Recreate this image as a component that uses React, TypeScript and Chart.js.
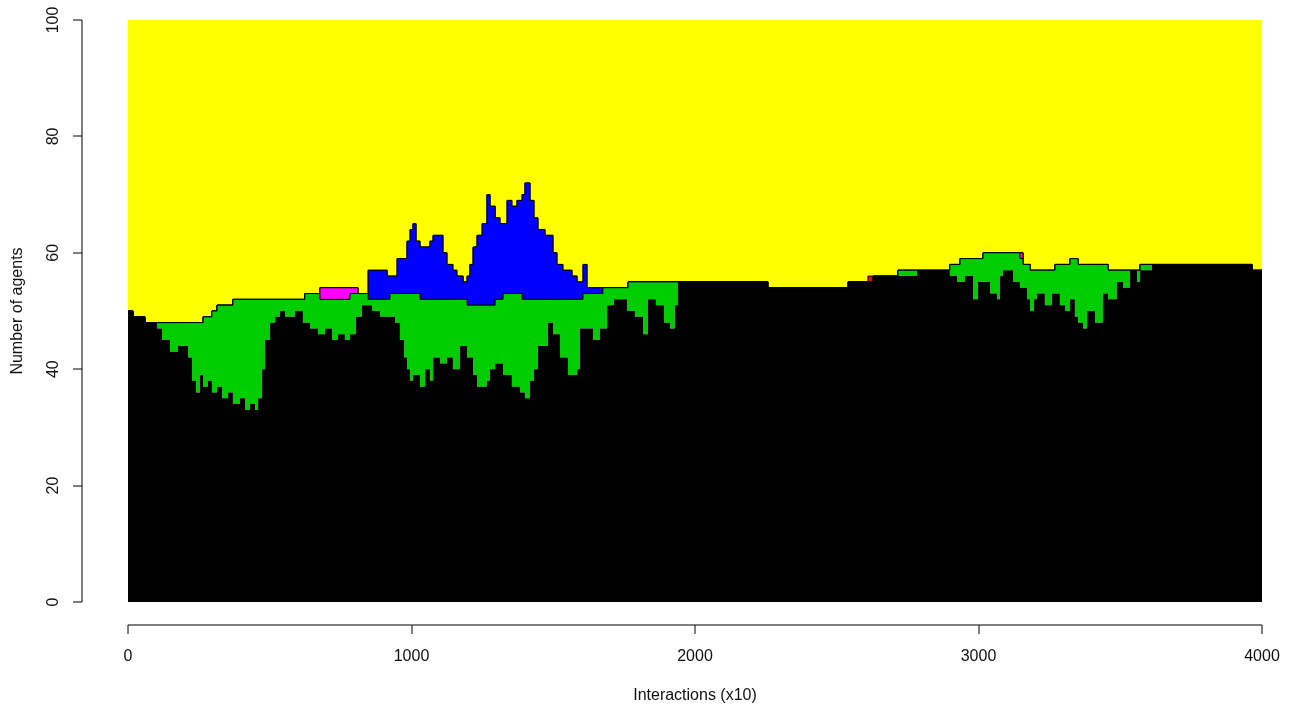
import { useEffect, useRef } from "react";
import { Chart, registerables } from "chart.js";

Chart.register(...registerables);

// Interaction step (x10) at which each row of counts begins
const interactions = [
  0, 18, 60, 102, 120, 148, 176, 212, 226, 240,
  254, 265, 282, 296, 314, 332, 353, 370, 395, 413,
  430, 448, 459, 473, 483, 501, 519, 536, 554, 589,
  617, 624, 642, 670, 677, 695, 720, 741, 765, 783,
  804, 811, 825, 847, 861, 889, 914, 924, 942, 949,
  959, 974, 984, 995, 1005, 1016, 1030, 1048, 1065, 1076,
  1101, 1111, 1125, 1146, 1160, 1171, 1182, 1196, 1206, 1217,
  1231, 1249, 1266, 1277, 1295, 1312, 1323, 1337, 1354, 1372,
  1383, 1390, 1400, 1418, 1432, 1446, 1471, 1481, 1499, 1513,
  1524, 1534, 1552, 1566, 1584, 1594, 1605, 1619, 1640, 1665,
  1675, 1690, 1714, 1760, 1764, 1788, 1817, 1834, 1862, 1891,
  1912, 1929, 1940, 2257, 2540, 2610, 2628, 2716, 2783, 2899,
  2924, 2935, 2952, 2981, 2998, 3016, 3041, 3065, 3076, 3086,
  3122, 3146, 3157, 3171, 3182, 3196, 3206, 3234, 3259, 3270,
  3287, 3305, 3323, 3340, 3351, 3369, 3383, 3411, 3439, 3457,
  3488, 3510, 3534, 3559, 3570, 3612, 3965, 4000,
];

const blackAgents = [
  50, 49, 48, 47, 45, 43, 44, 42, 38, 36,
  39, 37, 38, 36, 37, 35, 36, 34, 35, 33,
  34, 33, 35, 40, 45, 48, 49, 50, 49, 50,
  48, 48, 47, 46, 46, 47, 45, 46, 45, 46,
  49, 49, 51, 51, 50, 49, 49, 49, 48, 48,
  45, 42, 40, 38, 39, 39, 37, 40, 38, 42,
  41, 41, 42, 40, 40, 44, 44, 42, 42, 39,
  37, 37, 38, 40, 41, 41, 39, 39, 37, 37,
  36, 36, 35, 38, 40, 44, 44, 48, 46, 46,
  42, 42, 39, 39, 40, 47, 47, 47, 45, 47,
  47, 51, 52, 50, 50, 49, 46, 52, 51, 48,
  47, 51, 55, 54, 55, 55, 56, 56, 57, 56,
  55, 55, 56, 52, 55, 55, 53, 52, 56, 57,
  55, 54, 54, 52, 50, 52, 53, 51, 53, 53,
  51, 50, 52, 49, 48, 47, 50, 48, 53, 52,
  55, 54, 57, 55, 57, 58, 57, 57,
];

const greenAgents = [
  0, 0, 0, 1, 3, 5, 4, 6, 10, 12,
  9, 12, 11, 14, 14, 16, 15, 18, 17, 19,
  18, 19, 17, 12, 7, 4, 3, 2, 3, 2,
  4, 5, 6, 7, 6, 5, 7, 6, 7, 7,
  4, 4, 2, 1, 2, 3, 3, 4, 5, 5,
  8, 11, 13, 15, 14, 14, 15, 12, 14, 10,
  11, 11, 10, 12, 12, 8, 8, 9, 9, 12,
  14, 14, 13, 11, 11, 11, 14, 14, 16, 16,
  17, 16, 17, 14, 12, 8, 8, 4, 6, 6,
  10, 10, 13, 13, 12, 5, 6, 6, 8, 6,
  7, 3, 2, 4, 5, 6, 9, 3, 4, 7,
  8, 4, 0, 0, 0, 0, 0, 1, 0, 2,
  3, 4, 3, 7, 4, 5, 7, 8, 4, 3,
  5, 5, 4, 6, 7, 5, 4, 6, 4, 5,
  7, 8, 7, 10, 10, 11, 8, 10, 5, 5,
  2, 3, 0, 2, 1, 0, 0, 0,
];

const magentaAgents = [
  0, 0, 0, 0, 0, 0, 0, 0, 0, 0,
  0, 0, 0, 0, 0, 0, 0, 0, 0, 0,
  0, 0, 0, 0, 0, 0, 0, 0, 0, 0,
  0, 0, 0, 0, 2, 2, 2, 2, 2, 1,
  1, 0, 0, 0, 0, 0, 0, 0, 0, 0,
  0, 0, 0, 0, 0, 0, 0, 0, 0, 0,
  0, 0, 0, 0, 0, 0, 0, 0, 0, 0,
  0, 0, 0, 0, 0, 0, 0, 0, 0, 0,
  0, 0, 0, 0, 0, 0, 0, 0, 0, 0,
  0, 0, 0, 0, 0, 0, 0, 0, 0, 0,
  0, 0, 0, 0, 0, 0, 0, 0, 0, 0,
  0, 0, 0, 0, 0, 0, 0, 0, 0, 0,
  0, 0, 0, 0, 0, 0, 0, 0, 0, 0,
  0, 1, 0, 0, 0, 0, 0, 0, 0, 0,
  0, 0, 0, 0, 0, 0, 0, 0, 0, 0,
  0, 0, 0, 0, 0, 0, 0, 0,
];

const blueAgents = [
  0, 0, 0, 0, 0, 0, 0, 0, 0, 0,
  0, 0, 0, 0, 0, 0, 0, 0, 0, 0,
  0, 0, 0, 0, 0, 0, 0, 0, 0, 0,
  0, 0, 0, 0, 0, 0, 0, 0, 0, 0,
  0, 0, 0, 5, 5, 5, 4, 3, 3, 6,
  6, 6, 9, 11, 12, 9, 9, 9, 10, 11,
  11, 8, 6, 5, 4, 4, 3, 5, 7, 10,
  12, 14, 19, 17, 14, 13, 12, 16, 15, 16,
  16, 18, 20, 17, 14, 12, 11, 11, 8, 6,
  6, 5, 5, 4, 3, 3, 5, 1, 1, 1,
  0, 0, 0, 0, 0, 0, 0, 0, 0, 0,
  0, 0, 0, 0, 0, 0, 0, 0, 0, 0,
  0, 0, 0, 0, 0, 0, 0, 0, 0, 0,
  0, 0, 0, 0, 0, 0, 0, 0, 0, 0,
  0, 0, 0, 0, 0, 0, 0, 0, 0, 0,
  0, 0, 0, 0, 0, 0, 0, 0,
];

const redAgents = [
  0, 0, 0, 0, 0, 0, 0, 0, 0, 0,
  0, 0, 0, 0, 0, 0, 0, 0, 0, 0,
  0, 0, 0, 0, 0, 0, 0, 0, 0, 0,
  0, 0, 0, 0, 0, 0, 0, 0, 0, 0,
  0, 0, 0, 0, 0, 0, 0, 0, 0, 0,
  0, 0, 0, 0, 0, 0, 0, 0, 0, 0,
  0, 0, 0, 0, 0, 0, 0, 0, 0, 0,
  0, 0, 0, 0, 0, 0, 0, 0, 0, 0,
  0, 0, 0, 0, 0, 0, 0, 0, 0, 0,
  0, 0, 0, 0, 0, 0, 0, 0, 0, 0,
  0, 0, 0, 0, 0, 0, 0, 0, 0, 0,
  0, 0, 0, 0, 0, 1, 0, 0, 0, 0,
  0, 0, 0, 0, 0, 0, 0, 0, 0, 0,
  0, 0, 0, 0, 0, 0, 0, 0, 0, 0,
  0, 0, 0, 0, 0, 0, 0, 0, 0, 0,
  0, 0, 0, 0, 0, 0, 0, 0,
];

const totalAgents = 100;
const yTicks = [0, 20, 40, 60, 80, 100];
const xTicks = [0, 1000, 2000, 3000, 4000];
const xTitle = "Interactions (x10)";
const yTitle = "Number of agents";

const FONT = '16px "Liberation Sans", Arial, sans-serif';

export default function App() {
  const ref = useRef<HTMLCanvasElement>(null);

  useEffect(() => {
    if (!ref.current) return;
    const yellowAgents = interactions.map(
      (_, i) =>
        totalAgents -
        (blackAgents[i] + greenAgents[i] + magentaAgents[i] + blueAgents[i] + redAgents[i])
    );
    const pts = (vals: number[]) => interactions.map((x, i) => ({ x, y: vals[i] }));

    const rAxes = {
      id: "rAxes",
      afterDraw(chart: any) {
        const { ctx, scales, chartArea } = chart;
        const xs = scales.x;
        const ys = scales.y;
        ctx.save();
        ctx.strokeStyle = "#000";
        ctx.fillStyle = "#111";
        ctx.lineWidth = 1;
        ctx.font = FONT;

        // y axis
        const ax = chartArea.left - 46;
        ctx.beginPath();
        ctx.moveTo(ax, Math.round(ys.getPixelForValue(0)));
        ctx.lineTo(ax, Math.round(ys.getPixelForValue(100)));
        for (const t of yTicks) {
          const py = Math.round(ys.getPixelForValue(t));
          ctx.moveTo(ax, py);
          ctx.lineTo(ax - 9, py);
        }
        ctx.stroke();
        ctx.textAlign = "center";
        ctx.textBaseline = "middle";
        for (const t of yTicks) {
          const py = ys.getPixelForValue(t);
          ctx.save();
          ctx.translate(ax - 28, py);
          ctx.rotate(-Math.PI / 2);
          ctx.fillText(String(t), 0, 0);
          ctx.restore();
        }

        // x axis
        const ay = chartArea.bottom + 23;
        ctx.beginPath();
        ctx.moveTo(Math.round(xs.getPixelForValue(0)), ay);
        ctx.lineTo(Math.round(xs.getPixelForValue(4000)), ay);
        for (const t of xTicks) {
          const px = Math.round(xs.getPixelForValue(t));
          ctx.moveTo(px, ay);
          ctx.lineTo(px, ay + 9);
        }
        ctx.stroke();
        for (const t of xTicks) {
          ctx.fillText(String(t), xs.getPixelForValue(t), ay + 32);
        }

        // titles
        ctx.fillText(xTitle, (chartArea.left + chartArea.right) / 2, ay + 71);
        ctx.save();
        ctx.translate(18, (chartArea.top + chartArea.bottom) / 2);
        ctx.rotate(-Math.PI / 2);
        ctx.fillText(yTitle, 0, 0);
        ctx.restore();
        ctx.restore();
      },
    };

    const common = {
      stepped: true,
      pointRadius: 0,
      tension: 0,
      borderColor: "#000000",
      borderWidth: 1,
    };

    const chart = new Chart(ref.current, {
      type: "line",
      data: {
        datasets: [
          { ...common, label: "black", data: pts(blackAgents), backgroundColor: "#000000", borderWidth: 0, borderColor: "rgba(0,0,0,0)", fill: "origin" },
          { ...common, label: "green", data: pts(greenAgents), backgroundColor: "#00CD00", fill: "-1" },
          { ...common, label: "magenta", data: pts(magentaAgents), backgroundColor: "#FF00FF", fill: "-1" },
          { ...common, label: "blue", data: pts(blueAgents), backgroundColor: "#0000FF", fill: "-1" },
          { ...common, label: "red", data: pts(redAgents), backgroundColor: "#FF0000", fill: "-1" },
          { ...common, label: "yellow", data: pts(yellowAgents), backgroundColor: "#FFFF00", borderWidth: 0, borderColor: "rgba(0,0,0,0)", fill: "-1" },
        ],
      },
      options: {
        animation: false,
        responsive: true,
        maintainAspectRatio: false,
        layout: { padding: { left: 128, top: 20, right: 30, bottom: 107 } },
        scales: {
          x: { type: "linear", min: 0, max: 4000, display: false },
          y: { min: 0, max: 100, stacked: true, display: false },
        },
        plugins: {
          legend: { display: false },
          tooltip: { enabled: false },
        },
      },
      plugins: [rAxes],
    } as any);

    return () => chart.destroy();
  }, []);

  return (
    <div style={{ position: "absolute", left: 0, top: 0, width: 1292, height: 709, background: "#fff" }}>
      <canvas ref={ref} />
    </div>
  );
}
